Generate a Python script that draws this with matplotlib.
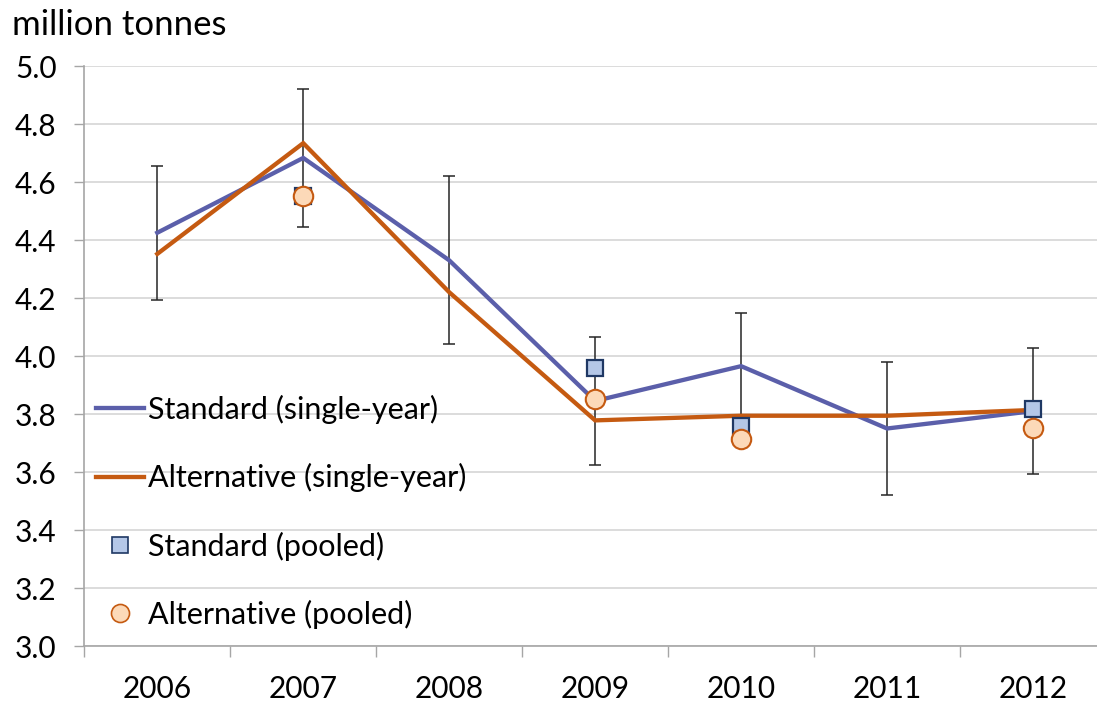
import numpy as np
import matplotlib
matplotlib.use("Agg")
import matplotlib.pyplot as plt
from matplotlib.lines import Line2D

plt.rcParams['font.family'] = ['Lato', 'DejaVu Sans']

years = ["2006", "2007", "2008", "2009", "2010", "2011", "2012"]
standard_single = [4.425, 4.683, 4.330, 3.845, 3.965, 3.750, 3.810]
alternative_single = [4.352, 4.734, 4.220, 3.778, 3.794, 3.794, 3.814]
standard_pooled = [np.nan, 4.552, np.nan, 3.960, 3.758, np.nan, 3.816]
alternative_pooled = [np.nan, 4.552, np.nan, 3.852, 3.713, np.nan, 3.752]
error_half = [0.231, 0.238, 0.289, 0.220, 0.184, 0.228, 0.218]

W, H = 1097, 704
fig = plt.figure(figsize=(W / 100, H / 100), dpi=100)
ax = fig.add_axes([84.3 / W, (H - 646) / H, (1106 - 84.3) / W, (646 - 66) / H])

x = np.arange(len(years))
blue = "#5B5FAA"
orange = "#C55A11"
fs = 21.5
legend_fs = 22

ax.errorbar(x, standard_single, yerr=error_half, fmt="none", ecolor="#262626",
            elinewidth=1.1, capsize=4, capthick=1.1, zorder=2)
ax.plot(x, standard_single, color=blue, lw=3.1, zorder=3,
        solid_joinstyle="miter")
ax.plot(x, alternative_single, color=orange, lw=3.1, zorder=4,
        solid_joinstyle="miter")
ax.plot(x, standard_pooled, ls="none", marker="s", ms=12, mfc="#B4C7E7",
        mec="#1F3864", mew=1.6, zorder=5)
ax.plot(x, alternative_pooled, ls="none", marker="o", ms=14, mfc="#FCD9B8",
        mec=orange, mew=1.5, zorder=6)

ax.set_xlim(-0.5, len(years) - 0.5)
ax.set_ylim(3.0, 5.0)
ax.set_yticks(np.arange(3.0, 5.01, 0.2))
ax.set_yticklabels([f"{v:.1f}" for v in np.arange(3.0, 5.01, 0.2)])
ax.set_xticks(x)
ax.set_xticklabels(years)
ax.set_xticks(np.arange(-0.5, len(years), 1.0), minor=True)

ax.grid(axis="y", color="#D9D9D9", lw=1.3, zorder=0)
ax.set_axisbelow(True)
for s in ["top", "right"]:
    ax.spines[s].set_visible(False)
for s in ["left", "bottom"]:
    ax.spines[s].set_color("#A6A6A6")
    ax.spines[s].set_linewidth(1.2)

ax.tick_params(axis="y", length=7, width=1.0, color="#A6A6A6", pad=13,
               labelsize=fs, labelcolor="black")
ax.tick_params(axis="x", which="major", length=0, pad=21, labelsize=fs,
               labelcolor="black")
ax.tick_params(axis="x", which="minor", length=8, width=1.0, color="#A6A6A6")

fig.text(12 / W, 1 - 25 / H, "million tonnes", fontsize=25, va="center",
         ha="left", color="black")

handles = [
    Line2D([], [], color=blue, lw=3.1),
    Line2D([], [], color=orange, lw=3.1),
    Line2D([], [], ls="none", marker="s", ms=12, mfc="#B4C7E7", mec="#1F3864",
           mew=1.2),
    Line2D([], [], ls="none", marker="o", ms=13, mfc="#FCD9B8", mec=orange,
           mew=1.2),
]
labels = ["Standard (single-year)", "Alternative (single-year)",
          "Standard (pooled)", "Alternative (pooled)"]
ax.legend(handles, labels, loc="upper left",
          bbox_to_anchor=(96 / W, 1 - 395 / H), bbox_transform=fig.transFigure,
          frameon=False, fontsize=legend_fs, handlelength=1.57,
          handletextpad=0.12, labelspacing=1.28, borderpad=0, borderaxespad=0)

fig.savefig("out.png", dpi=100)
